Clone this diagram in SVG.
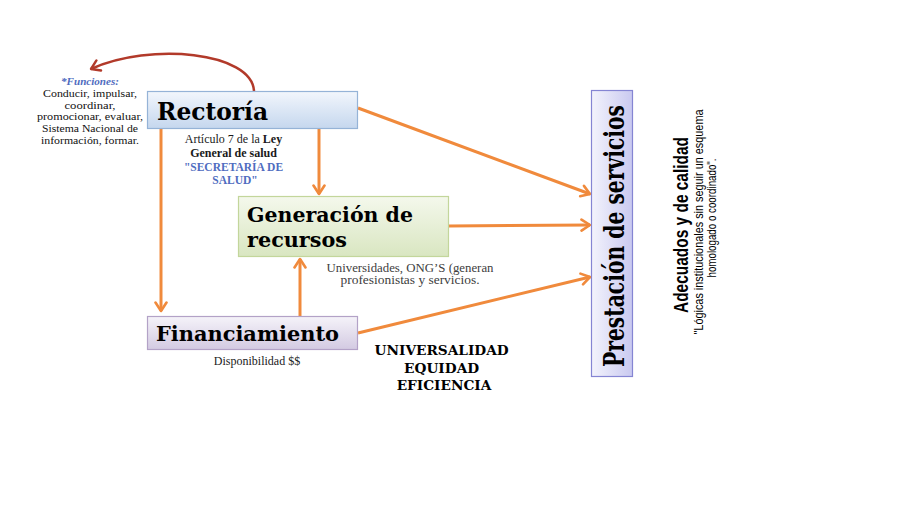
<svg xmlns="http://www.w3.org/2000/svg" width="921" height="531" viewBox="0 0 921 531">
  <defs>
    <linearGradient id="gBlue" x1="0" y1="0" x2="0" y2="1">
      <stop offset="0" stop-color="#f2f6fc"/>
      <stop offset="1" stop-color="#c5d7ee"/>
    </linearGradient>
    <linearGradient id="gGreen" x1="0" y1="0" x2="0" y2="1">
      <stop offset="0" stop-color="#f4f8ec"/>
      <stop offset="1" stop-color="#d9e6c1"/>
    </linearGradient>
    <linearGradient id="gViolet" x1="0" y1="0" x2="0" y2="1">
      <stop offset="0" stop-color="#f5f3f9"/>
      <stop offset="1" stop-color="#d3cae2"/>
    </linearGradient>
    <linearGradient id="gLav" x1="0" y1="0" x2="1" y2="0">
      <stop offset="0" stop-color="#f3f3fc"/>
      <stop offset="1" stop-color="#c9c9f0"/>
    </linearGradient>
    <marker id="chev" markerUnits="userSpaceOnUse" markerWidth="12" markerHeight="14" refX="10" refY="7" orient="auto" viewBox="0 0 12 14">
      <path d="M1.5,1.5 L10,7 L1.5,12.5" fill="none" stroke="#f08a3c" stroke-width="2.6" stroke-linecap="round" stroke-linejoin="round"/>
    </marker>
    <marker id="chevRed" markerUnits="userSpaceOnUse" markerWidth="12" markerHeight="14" refX="10" refY="7" orient="auto" viewBox="0 0 12 14">
      <path d="M1.5,1.5 L10,7 L1.5,12.5" fill="none" stroke="#b23a2a" stroke-width="2.4" stroke-linecap="round" stroke-linejoin="round"/>
    </marker>
  </defs>
  <style>
    .hdr { font-family: "DejaVu Serif", "Liberation Serif", serif; font-weight: bold; fill: #000; }
    .sm { font-family: "Liberation Serif", "DejaVu Serif", serif; font-size: 12px; fill: #1a1a1a; }
    .fn { font-family: "Liberation Serif", "DejaVu Serif", serif; font-size: 9.6px; fill: #111; }
    .b { font-weight: bold; }
    .blue { fill: #4f6cc0; }
    .grey { fill: #404040; }
    .conn { fill: none; stroke: #f08a3c; stroke-width: 3; marker-end: url(#chev); }
    .red { fill: none; stroke: #b23a2a; stroke-width: 2.5; marker-end: url(#chevRed); }
    .narrow { font-family: "Liberation Sans", Arial, sans-serif; fill: #000; }
  </style>
  <rect width="921" height="531" fill="#ffffff"/>

  <g id="connectors">
    <path class="red" d="M254,91 C252,52 150,42 91,69"/>
    <path class="conn" d="M358,108 L590,194"/>
    <path class="conn" d="M449,226 L590,225"/>
    <path class="conn" d="M358,333 L590,277"/>
    <path class="conn" d="M319,129 L319,194"/>
    <path class="conn" d="M161,129 L161,311"/>
    <path class="conn" d="M300,316 L300,259"/>
  </g>

  <g id="funciones">
    <text class="fn b blue" text-anchor="middle" x="90" y="85" font-style="italic" textLength="58" lengthAdjust="spacingAndGlyphs">*Funciones:</text>
    <text class="fn" text-anchor="middle" x="90" y="96.8" textLength="94" lengthAdjust="spacingAndGlyphs">Conducir, impulsar,</text>
    <text class="fn" text-anchor="middle" x="90" y="108.5" textLength="51" lengthAdjust="spacingAndGlyphs">coordinar,</text>
    <text class="fn" text-anchor="middle" x="90" y="120.2" textLength="106" lengthAdjust="spacingAndGlyphs">promocionar, evaluar,</text>
    <text class="fn" text-anchor="middle" x="90" y="131.9" textLength="96" lengthAdjust="spacingAndGlyphs">Sistema Nacional de</text>
    <text class="fn" text-anchor="middle" x="90" y="143.6" textLength="98" lengthAdjust="spacingAndGlyphs">información, formar.</text>
  </g>

  <g id="rectoria">
    <rect x="147.5" y="91.5" width="210" height="37" fill="url(#gBlue)" stroke="#95b3d7" stroke-width="1.2"/>
    <text class="hdr" x="157" y="120" font-size="24" textLength="111" lengthAdjust="spacingAndGlyphs">Rectoría</text>
    <text class="sm" text-anchor="middle" font-size="12.5">
      <tspan x="235" y="143">Artículo 7 de la <tspan class="b">Ley</tspan></tspan>
      <tspan x="235" y="157" class="b">General de salud</tspan>
      <tspan x="235" y="171" class="b blue" font-size="11.5">"SECRETARÍA DE</tspan>
      <tspan x="235" y="184" class="b blue" font-size="11.5">SALUD"</tspan>
    </text>
  </g>

  <g id="generacion">
    <rect x="238.5" y="196.5" width="210" height="60" fill="url(#gGreen)" stroke="#c3d69b" stroke-width="1.2"/>
    <text class="hdr" x="247" y="222" font-size="20.5" textLength="166" lengthAdjust="spacingAndGlyphs">Generación de</text>
    <text class="hdr" x="247" y="247" font-size="20.5" textLength="100" lengthAdjust="spacingAndGlyphs">recursos</text>
    <text class="sm grey" x="410" y="271.5" text-anchor="middle" font-size="9.8" textLength="167" lengthAdjust="spacingAndGlyphs">Universidades, ONG’S (generan</text>
    <text class="sm grey" x="410" y="284" text-anchor="middle" font-size="9.8" textLength="139" lengthAdjust="spacingAndGlyphs">profesionistas y servicios.</text>
  </g>

  <g id="financiamiento">
    <rect x="147.5" y="316.5" width="210" height="33" fill="url(#gViolet)" stroke="#b3a2c7" stroke-width="1.2"/>
    <text class="hdr" x="156" y="341" font-size="21" textLength="183" lengthAdjust="spacingAndGlyphs">Financiamiento</text>
    <text class="sm" x="257" y="365" text-anchor="middle" font-size="14">Disponibilidad $$</text>
  </g>

  <g id="valores">
    <text class="hdr" text-anchor="middle" font-size="13.7">
      <tspan x="444" y="355">UNIVERSALIDAD</tspan>
      <tspan x="444" y="373">EQUIDAD</tspan>
      <tspan x="444" y="390">EFICIENCIA</tspan>
    </text>
  </g>

  <g id="prestacion">
    <rect x="591.5" y="90.5" width="41" height="286" fill="url(#gLav)" stroke="#8585d3" stroke-width="1.2"/>
    <text class="hdr" transform="translate(624,236) rotate(-90)" text-anchor="middle" font-size="27" textLength="262" lengthAdjust="spacingAndGlyphs">Prestación de servicios</text>
  </g>

  <g id="calidad">
    <text class="narrow" transform="translate(688,225) rotate(-90)" text-anchor="middle" font-size="21" font-weight="bold" textLength="176" lengthAdjust="spacingAndGlyphs">Adecuados y de calidad</text>
    <text class="narrow" transform="translate(703,222) rotate(-90)" text-anchor="middle" font-size="12.5" textLength="225" lengthAdjust="spacingAndGlyphs">"Lógicas institucionales sin seguir un esquema</text>
    <text class="narrow" transform="translate(716,218) rotate(-90)" text-anchor="middle" font-size="12.5" textLength="119" lengthAdjust="spacingAndGlyphs">homologado o coordinado".</text>
  </g>
</svg>
